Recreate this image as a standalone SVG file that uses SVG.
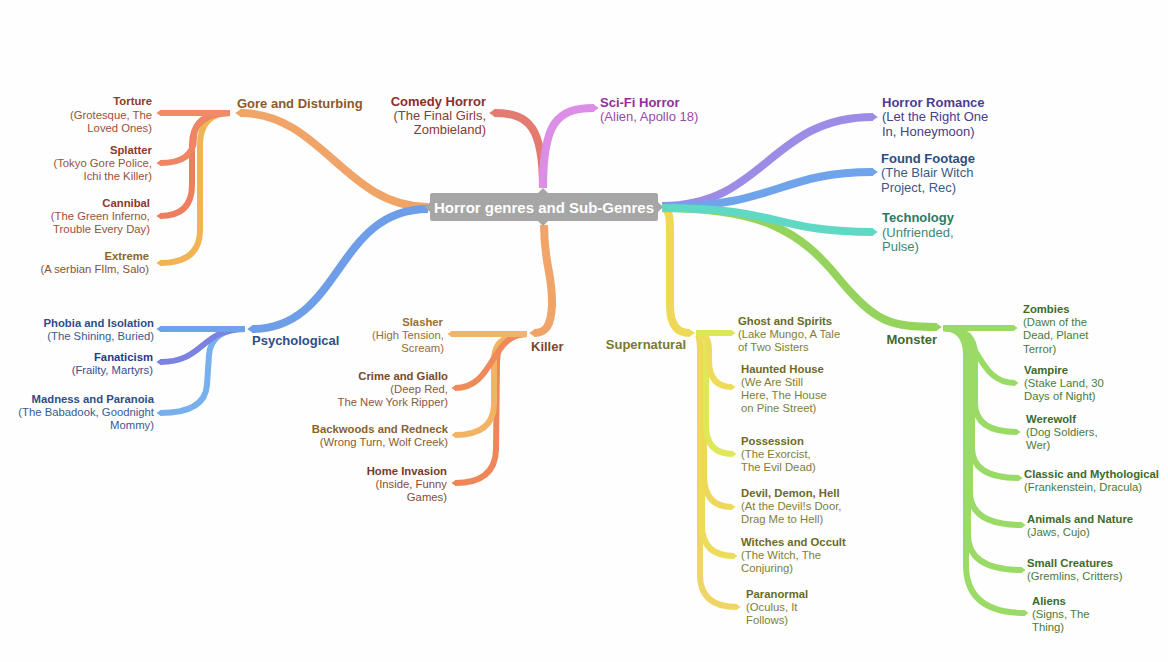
<svg xmlns="http://www.w3.org/2000/svg" width="1168" height="662" viewBox="0 0 1168 662">
  <style>
    text { font-family: "Liberation Sans", Arial, Helvetica, sans-serif; }
    .root { font-size: 15px; font-weight: bold; fill: #ffffff; }
    .t1 { font-size: 13px; font-weight: bold; }
    .b1 { font-size: 13px; }
    .t2 { font-size: 11.3px; font-weight: bold; }
    .b2 { font-size: 11.3px; }
    .end { text-anchor: end; }
    .m { stroke-width: 8; }
    .c { stroke-width: 6; }
    #connectors path { fill: none; stroke-linecap: butt; stroke-linejoin: round; }
  </style>
  <defs>
    <!-- pointed tips for branch ends, one per branch colour -->
    <marker id="a-gore" viewBox="0 0 10 10" refX="2" refY="5" markerWidth="0.75" markerHeight="1.05" preserveAspectRatio="none" orient="auto"><path d="M0,0L10,5L0,10z" fill="#f0a468"/></marker>
    <marker id="a-tort" viewBox="0 0 10 10" refX="2" refY="5" markerWidth="0.75" markerHeight="1.05" preserveAspectRatio="none" orient="auto"><path d="M0,0L10,5L0,10z" fill="#f08a68"/></marker>
    <marker id="a-splat" viewBox="0 0 10 10" refX="2" refY="5" markerWidth="0.75" markerHeight="1.05" preserveAspectRatio="none" orient="auto"><path d="M0,0L10,5L0,10z" fill="#ef8663"/></marker>
    <marker id="a-cann" viewBox="0 0 10 10" refX="2" refY="5" markerWidth="0.75" markerHeight="1.05" preserveAspectRatio="none" orient="auto"><path d="M0,0L10,5L0,10z" fill="#ee7f5e"/></marker>
    <marker id="a-extr" viewBox="0 0 10 10" refX="2" refY="5" markerWidth="0.75" markerHeight="1.05" preserveAspectRatio="none" orient="auto"><path d="M0,0L10,5L0,10z" fill="#f1b454"/></marker>
    <marker id="a-com" viewBox="0 0 10 10" refX="2" refY="5" markerWidth="0.75" markerHeight="1.05" preserveAspectRatio="none" orient="auto"><path d="M0,0L10,5L0,10z" fill="#e47b72"/></marker>
    <marker id="a-sci" viewBox="0 0 10 10" refX="2" refY="5" markerWidth="0.75" markerHeight="1.05" preserveAspectRatio="none" orient="auto"><path d="M0,0L10,5L0,10z" fill="#dc8ee6"/></marker>
    <marker id="a-rom" viewBox="0 0 10 10" refX="2" refY="5" markerWidth="0.75" markerHeight="1.05" preserveAspectRatio="none" orient="auto"><path d="M0,0L10,5L0,10z" fill="#9d8ce6"/></marker>
    <marker id="a-fnd" viewBox="0 0 10 10" refX="2" refY="5" markerWidth="0.75" markerHeight="1.05" preserveAspectRatio="none" orient="auto"><path d="M0,0L10,5L0,10z" fill="#6fa3ea"/></marker>
    <marker id="a-tech" viewBox="0 0 10 10" refX="2" refY="5" markerWidth="0.75" markerHeight="1.05" preserveAspectRatio="none" orient="auto"><path d="M0,0L10,5L0,10z" fill="#5fd8c4"/></marker>
    <marker id="a-mon" viewBox="0 0 10 10" refX="2" refY="5" markerWidth="0.75" markerHeight="1.05" preserveAspectRatio="none" orient="auto"><path d="M0,0L10,5L0,10z" fill="#95d35d"/></marker>
    <marker id="a-monc" viewBox="0 0 10 10" refX="2" refY="5" markerWidth="0.75" markerHeight="1.05" preserveAspectRatio="none" orient="auto"><path d="M0,0L10,5L0,10z" fill="#9ada66"/></marker>
    <marker id="a-sup" viewBox="0 0 10 10" refX="2" refY="5" markerWidth="0.75" markerHeight="1.05" preserveAspectRatio="none" orient="auto"><path d="M0,0L10,5L0,10z" fill="#eed856"/></marker>
    <marker id="a-gho" viewBox="0 0 10 10" refX="2" refY="5" markerWidth="0.75" markerHeight="1.05" preserveAspectRatio="none" orient="auto"><path d="M0,0L10,5L0,10z" fill="#d9e857"/></marker>
    <marker id="a-hau" viewBox="0 0 10 10" refX="2" refY="5" markerWidth="0.75" markerHeight="1.05" preserveAspectRatio="none" orient="auto"><path d="M0,0L10,5L0,10z" fill="#eedb5a"/></marker>
    <marker id="a-pos" viewBox="0 0 10 10" refX="2" refY="5" markerWidth="0.75" markerHeight="1.05" preserveAspectRatio="none" orient="auto"><path d="M0,0L10,5L0,10z" fill="#dfe858"/></marker>
    <marker id="a-par" viewBox="0 0 10 10" refX="2" refY="5" markerWidth="0.75" markerHeight="1.05" preserveAspectRatio="none" orient="auto"><path d="M0,0L10,5L0,10z" fill="#efd466"/></marker>
    <marker id="a-sla" viewBox="0 0 10 10" refX="2" refY="5" markerWidth="0.75" markerHeight="1.05" preserveAspectRatio="none" orient="auto"><path d="M0,0L10,5L0,10z" fill="#f3b46a"/></marker>
    <marker id="a-cri" viewBox="0 0 10 10" refX="2" refY="5" markerWidth="0.75" markerHeight="1.05" preserveAspectRatio="none" orient="auto"><path d="M0,0L10,5L0,10z" fill="#ef8b5b"/></marker>
    <marker id="a-bkw" viewBox="0 0 10 10" refX="2" refY="5" markerWidth="0.75" markerHeight="1.05" preserveAspectRatio="none" orient="auto"><path d="M0,0L10,5L0,10z" fill="#f2b462"/></marker>
    <marker id="a-hom" viewBox="0 0 10 10" refX="2" refY="5" markerWidth="0.75" markerHeight="1.05" preserveAspectRatio="none" orient="auto"><path d="M0,0L10,5L0,10z" fill="#ef865a"/></marker>
    <marker id="a-psy" viewBox="0 0 10 10" refX="2" refY="5" markerWidth="0.75" markerHeight="1.05" preserveAspectRatio="none" orient="auto"><path d="M0,0L10,5L0,10z" fill="#6e9ee8"/></marker>
    <marker id="a-pho" viewBox="0 0 10 10" refX="2" refY="5" markerWidth="0.75" markerHeight="1.05" preserveAspectRatio="none" orient="auto"><path d="M0,0L10,5L0,10z" fill="#6ea2ea"/></marker>
    <marker id="a-fan" viewBox="0 0 10 10" refX="2" refY="5" markerWidth="0.75" markerHeight="1.05" preserveAspectRatio="none" orient="auto"><path d="M0,0L10,5L0,10z" fill="#7b82e2"/></marker>
    <marker id="a-mad" viewBox="0 0 10 10" refX="2" refY="5" markerWidth="0.75" markerHeight="1.05" preserveAspectRatio="none" orient="auto"><path d="M0,0L10,5L0,10z" fill="#78b0ee"/></marker>
  </defs>

  <rect x="0" y="0" width="1168" height="662" fill="#fefefe"/>

  <g id="connectors">
    <!-- root to first-level topics -->
    <path class="m" stroke="#f0a468" marker-end="url(#a-gore)" d="M428,207 C345,207 322,113 240,113"/>
    <path class="m" stroke="#6e9ee8" marker-end="url(#a-psy)" d="M428,209 C335,209 342,329 252,329"/>
    <path class="m" stroke="#e47b72" marker-end="url(#a-com)" d="M543,188 C543,128 530,113 494,113"/>
    <path class="m" stroke="#dc8ee6" marker-end="url(#a-sci)" d="M543,188 C543,124 556,108 594,108"/>
    <path class="m" stroke="#f0a468" marker-end="url(#a-gore)" d="M544,225 C544,265 553,275 552,305 C551,326 546,333 534,333"/>
    <path class="m" stroke="#eed856" marker-end="url(#a-sup)" d="M662,208 C671,208 670,222 670,240 L670,305 C670,326 678,333 690,333"/>
    <path class="m" stroke="#95d35d" marker-end="url(#a-mon)" d="M662,208 C760,208 800,230 840,280 C875,322 890,327 937,327"/>
    <path class="m" stroke="#9d8ce6" marker-end="url(#a-rom)" d="M662,206 C765,206 770,117 873,117"/>
    <path class="m" stroke="#6fa3ea" marker-end="url(#a-fnd)" d="M662,207 C775,207 780,172 873,172"/>
    <path class="m" stroke="#5fd8c4" marker-end="url(#a-tech)" d="M662,208 C780,208 775,232 873,232"/>

    <!-- Gore and Disturbing -->
    <path class="c" stroke="#f1b454" marker-end="url(#a-extr)" d="M230,113 Q200,113 200,145 L200,230 Q200,263 160,263"/>
    <path class="c" stroke="#ee7f5e" marker-end="url(#a-cann)" d="M230,113 Q192,113 192,145 L192,185 Q192,216 160,216"/>
    <path class="c" stroke="#ef8663" marker-end="url(#a-splat)" d="M230,113 Q194,113 194,138 Q194,163 160,163"/>
    <path class="c" stroke="#f08a68" marker-end="url(#a-tort)" d="M230,113 L160,113"/>

    <!-- Psychological -->
    <path class="c" stroke="#78b0ee" marker-end="url(#a-mad)" d="M245,329 Q211,329 209,355 L207,385 Q205,413 160,413"/>
    <path class="c" stroke="#7b82e2" marker-end="url(#a-fan)" d="M245,329 C200,329 205,362 160,362"/>
    <path class="c" stroke="#6ea2ea" marker-end="url(#a-pho)" d="M245,329 L160,329"/>

    <!-- Killer -->
    <path class="c" stroke="#ef865a" marker-end="url(#a-hom)" d="M527,334 Q497,334 497,362 L496,450 Q495,483 455,483"/>
    <path class="c" stroke="#f2b462" marker-end="url(#a-bkw)" d="M527,334 Q494,334 494,360 L494,405 Q493,435 455,435"/>
    <path class="c" stroke="#ef8b5b" marker-end="url(#a-cri)" d="M527,334 C490,334 495,388 455,388"/>
    <path class="c" stroke="#f3b46a" marker-end="url(#a-sla)" d="M527,334 L451,334"/>

    <!-- Supernatural -->
    <path class="c" stroke="#efd466" marker-end="url(#a-par)" d="M696,333 Q700,333 700,355 L700,575 Q700,607 737,607"/>
    <path class="c" stroke="#eedb5a" marker-end="url(#a-hau)" d="M696,333 Q702,333 702,355 L702,525 Q702,556 734,556"/>
    <path class="c" stroke="#eed85a" marker-end="url(#a-hau)" d="M696,333 Q704,333 704,355 L704,475 Q704,507 732,507"/>
    <path class="c" stroke="#dfe858" marker-end="url(#a-pos)" d="M696,333 Q706,333 706,355 L706,425 Q706,454 733,454"/>
    <path class="c" stroke="#eedb5a" marker-end="url(#a-hau)" d="M696,333 Q709,333 709,350 L709,360 Q709,387 732,387"/>
    <path class="c" stroke="#d9e857" marker-end="url(#a-gho)" d="M696,333 L732,333"/>

    <!-- Monster -->
    <path class="c" stroke="#9ada66" marker-end="url(#a-monc)" d="M943,328 Q966,328 966,355 L966,565 Q966,613 1025,613"/>
    <path class="c" stroke="#9ada66" marker-end="url(#a-monc)" d="M943,328 Q968,328 968,355 L968,535 Q968,570 1022,570"/>
    <path class="c" stroke="#9ada66" marker-end="url(#a-monc)" d="M943,328 Q970,328 970,355 L970,492 Q970,525 1022,525"/>
    <path class="c" stroke="#9ada66" marker-end="url(#a-monc)" d="M943,328 Q972,328 972,355 L972,448 Q972,478 1019,478"/>
    <path class="c" stroke="#9ada66" marker-end="url(#a-monc)" d="M943,328 Q975,328 975,355 L975,403 Q975,432 1017,432"/>
    <path class="c" stroke="#9ada66" marker-end="url(#a-monc)" d="M943,328 C980,328 975,383 1015,383"/>
    <path class="c" stroke="#9ada66" marker-end="url(#a-monc)" d="M943,328 L1014,328"/>
  </g>

  <!-- central topic -->
  <g id="node-root">
    <rect x="430" y="193" width="228" height="28" rx="2" fill="#a6a6a6"/>
    <path d="M430,202 L425,207 L430,212 Z M658,202 L663,207 L658,212 Z" fill="#a6a6a6"/>
    <path d="M538,193 L543,188 L548,193 Z M538,221 L543,226 L548,221 Z" fill="#a6a6a6"/>
    <text class="root" x="544" y="213" text-anchor="middle">Horror genres and Sub-Genres</text>
  </g>

  <!-- Gore and Disturbing -->
  <g id="node-gore"><text class="t1" x="237" y="108" fill="#8b5a2b">Gore and Disturbing</text></g>
  <g id="node-torture">
    <text class="t2 end" x="152" y="105" fill="#8c3b28">Torture</text>
    <text class="b2 end" x="152" y="119" fill="#9b5040">(Grotesque, The</text>
    <text class="b2 end" x="152" y="132" fill="#9b5040">Loved Ones)</text>
  </g>
  <g id="node-splatter">
    <text class="t2 end" x="152" y="154" fill="#8c3b28">Splatter</text>
    <text class="b2 end" x="152" y="167" fill="#9b5040">(Tokyo Gore Police,</text>
    <text class="b2 end" x="152" y="180" fill="#9b5040">Ichi the Killer)</text>
  </g>
  <g id="node-cannibal">
    <text class="t2 end" x="150" y="207" fill="#8c3b28">Cannibal</text>
    <text class="b2 end" x="150" y="220" fill="#9b5040">(The Green Inferno,</text>
    <text class="b2 end" x="150" y="233" fill="#9b5040">Trouble Every Day)</text>
  </g>
  <g id="node-extreme">
    <text class="t2 end" x="149" y="260" fill="#8a6628">Extreme</text>
    <text class="b2 end" x="149" y="273" fill="#8a5232">(A serbian FIlm, Salo)</text>
  </g>

  <!-- Comedy Horror / Sci-Fi Horror -->
  <g id="node-comedy">
    <text class="t1 end" x="486" y="106" fill="#8a2f2f">Comedy Horror</text>
    <text class="b1 end" x="486" y="120" fill="#8a3a3a">(The Final Girls,</text>
    <text class="b1 end" x="486" y="134" fill="#8a3a3a">Zombieland)</text>
  </g>
  <g id="node-scifi">
    <text class="t1" x="600" y="107" fill="#8b3399">Sci-Fi Horror</text>
    <text class="b1" x="600" y="121" fill="#9a4aa8">(Alien, Apollo 18)</text>
  </g>

  <!-- right-hand topics -->
  <g id="node-romance">
    <text class="t1" x="882" y="107" fill="#4b3c9a">Horror Romance</text>
    <text class="b1" x="882" y="121" fill="#4b3c8a">(Let the Right One</text>
    <text class="b1" x="882" y="136" fill="#4b3c8a">In, Honeymoon)</text>
  </g>
  <g id="node-found">
    <text class="t1" x="881" y="163" fill="#2e4d7c">Found Footage</text>
    <text class="b1" x="881" y="177" fill="#3a5a8a">(The Blair Witch</text>
    <text class="b1" x="881" y="192" fill="#3a5a8a">Project, Rec)</text>
  </g>
  <g id="node-tech">
    <text class="t1" x="882" y="222" fill="#2b7a68">Technology</text>
    <text class="b1" x="882" y="237" fill="#3a8a78">(Unfriended,</text>
    <text class="b1" x="882" y="251" fill="#3a8a78">Pulse)</text>
  </g>

  <!-- Psychological -->
  <g id="node-psych"><text class="t1" x="252" y="345" fill="#2e4d8a">Psychological</text></g>
  <g id="node-phobia">
    <text class="t2 end" x="154" y="327" fill="#2e4d8a">Phobia and Isolation</text>
    <text class="b2 end" x="154" y="340" fill="#3a5a92">(The Shining, Buried)</text>
  </g>
  <g id="node-fanaticism">
    <text class="t2 end" x="153" y="361" fill="#2a3a8a">Fanaticism</text>
    <text class="b2 end" x="153" y="374" fill="#3a4a92">(Frailty, Martyrs)</text>
  </g>
  <g id="node-madness">
    <text class="t2 end" x="154" y="403" fill="#2e4d8a">Madness and Paranoia</text>
    <text class="b2 end" x="154" y="416" fill="#3a5a92">(The Babadook, Goodnight</text>
    <text class="b2 end" x="154" y="429" fill="#3a5a92">Mommy)</text>
  </g>

  <!-- Killer -->
  <g id="node-killer"><text class="t1" x="531" y="351" fill="#7a4a2a">Killer</text></g>
  <g id="node-slasher">
    <text class="t2 end" x="443" y="326" fill="#9a7030">Slasher</text>
    <text class="b2 end" x="444" y="339" fill="#9a6a40">(High Tension,</text>
    <text class="b2 end" x="444" y="352" fill="#9a6a40">Scream)</text>
  </g>
  <g id="node-crime">
    <text class="t2 end" x="448" y="380" fill="#7a4a2a">Crime and Giallo</text>
    <text class="b2 end" x="448" y="393" fill="#8a5a3a">(Deep Red,</text>
    <text class="b2 end" x="448" y="406" fill="#8a5a3a">The New York Ripper)</text>
  </g>
  <g id="node-backwoods">
    <text class="t2 end" x="448" y="433" fill="#8a6428">Backwoods and Redneck</text>
    <text class="b2 end" x="448" y="446" fill="#8a5a32">(Wrong Turn, Wolf Creek)</text>
  </g>
  <g id="node-home">
    <text class="t2 end" x="447" y="475" fill="#7a3a2a">Home Invasion</text>
    <text class="b2 end" x="447" y="488" fill="#8a4a3a">(Inside, Funny</text>
    <text class="b2 end" x="447" y="501" fill="#8a4a3a">Games)</text>
  </g>

  <!-- Supernatural -->
  <g id="node-supernatural"><text class="t1 end" x="686" y="349" fill="#7a7a2a">Supernatural</text></g>
  <g id="node-ghost">
    <text class="t2" x="738" y="325" fill="#6b6b25">Ghost and Spirits</text>
    <text class="b2" x="738" y="338" fill="#7f7f35">(Lake Mungo, A Tale</text>
    <text class="b2" x="738" y="351" fill="#7f7f35">of Two Sisters</text>
  </g>
  <g id="node-haunted">
    <text class="t2" x="741" y="373" fill="#6b6b25">Haunted House</text>
    <text class="b2" x="741" y="386" fill="#7f7f35">(We Are Still</text>
    <text class="b2" x="741" y="399" fill="#7f7f35">Here, The House</text>
    <text class="b2" x="741" y="412" fill="#7f7f35">on Pine Street)</text>
  </g>
  <g id="node-possession">
    <text class="t2" x="741" y="445" fill="#6b6b25">Possession</text>
    <text class="b2" x="741" y="458" fill="#7f7f35">(The Exorcist,</text>
    <text class="b2" x="741" y="471" fill="#7f7f35">The Evil Dead)</text>
  </g>
  <g id="node-devil">
    <text class="t2" x="741" y="497" fill="#6b6b25">Devil, Demon, Hell</text>
    <text class="b2" x="741" y="510" fill="#7f7f35">(At the Devil!s Door,</text>
    <text class="b2" x="741" y="523" fill="#7f7f35">Drag Me to Hell)</text>
  </g>
  <g id="node-witches">
    <text class="t2" x="741" y="546" fill="#6b6b25">Witches and Occult</text>
    <text class="b2" x="741" y="559" fill="#7f7f35">(The Witch, The</text>
    <text class="b2" x="741" y="572" fill="#7f7f35">Conjuring)</text>
  </g>
  <g id="node-paranormal">
    <text class="t2" x="746" y="598" fill="#6b6b25">Paranormal</text>
    <text class="b2" x="746" y="611" fill="#7f7f35">(Oculus, It</text>
    <text class="b2" x="746" y="624" fill="#7f7f35">Follows)</text>
  </g>

  <!-- Monster -->
  <g id="node-monster"><text class="t1 end" x="937" y="344" fill="#3e6b2a">Monster</text></g>
  <g id="node-zombies">
    <text class="t2" x="1023" y="313" fill="#3e6b2a">Zombies</text>
    <text class="b2" x="1023" y="326" fill="#4a7a3a">(Dawn of the</text>
    <text class="b2" x="1023" y="339" fill="#4a7a3a">Dead, Planet</text>
    <text class="b2" x="1023" y="353" fill="#4a7a3a">Terror)</text>
  </g>
  <g id="node-vampire">
    <text class="t2" x="1024" y="374" fill="#3e6b2a">Vampire</text>
    <text class="b2" x="1024" y="387" fill="#4a7a3a">(Stake Land, 30</text>
    <text class="b2" x="1024" y="400" fill="#4a7a3a">Days of Night)</text>
  </g>
  <g id="node-werewolf">
    <text class="t2" x="1026" y="423" fill="#3e6b2a">Werewolf</text>
    <text class="b2" x="1026" y="436" fill="#4a7a3a">(Dog Soldiers,</text>
    <text class="b2" x="1026" y="449" fill="#4a7a3a">Wer)</text>
  </g>
  <g id="node-classic">
    <text class="t2" x="1024" y="478" fill="#3e6b2a">Classic and Mythological</text>
    <text class="b2" x="1024" y="491" fill="#4a7a3a">(Frankenstein, Dracula)</text>
  </g>
  <g id="node-animals">
    <text class="t2" x="1027" y="523" fill="#3e6b2a">Animals and Nature</text>
    <text class="b2" x="1027" y="536" fill="#4a7a3a">(Jaws, Cujo)</text>
  </g>
  <g id="node-small">
    <text class="t2" x="1027" y="567" fill="#3e6b2a">Small Creatures</text>
    <text class="b2" x="1027" y="580" fill="#4a7a3a">(Gremlins, Critters)</text>
  </g>
  <g id="node-aliens">
    <text class="t2" x="1032" y="605" fill="#3e6b2a">Aliens</text>
    <text class="b2" x="1032" y="618" fill="#4a7a3a">(Signs, The</text>
    <text class="b2" x="1032" y="631" fill="#4a7a3a">Thing)</text>
  </g>
</svg>
